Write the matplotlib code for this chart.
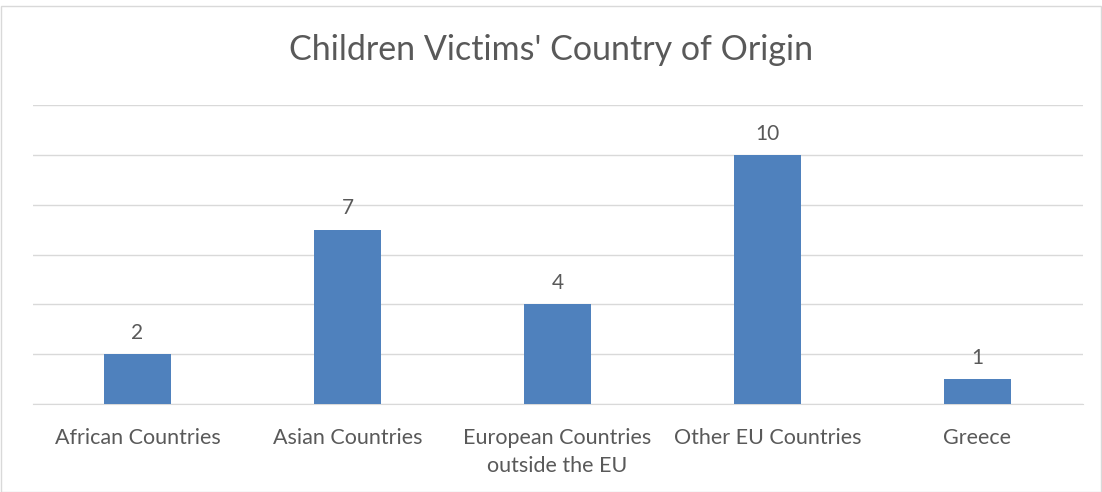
import matplotlib.pyplot as plt
from matplotlib.patches import Rectangle

# --- Data ---
categories = ["African Countries", "Asian Countries", "European Countries\noutside the EU",
              "Other EU Countries", "Greece"]
values = [2, 7, 4, 10, 1]

plt.rcParams['font.family'] = ['Lato', 'DejaVu Sans']
text_color = "#595959"

fig = plt.figure(figsize=(11.02, 4.92), dpi=100)
ax = fig.add_axes([32.5 / 1102, 88 / 492, 1050 / 1102, 299 / 492])

x = range(len(categories))
bars = ax.bar(x, values, width=0.315, color="#4F81BD", zorder=3)
for b, v in zip(bars, values):
    ax.annotate(str(v), (b.get_x() + b.get_width() / 2, v), xytext=(0, 8),
                textcoords="offset points", ha="center", va="bottom",
                fontsize=15, color=text_color)

ax.set_xlim(-0.5, len(categories) - 0.5)
ax.set_ylim(0, 12)
ax.set_yticks(range(0, 13, 2))
ax.set_yticklabels([])
ax.tick_params(axis="y", length=0)
ax.grid(axis="y", color="#D9D9D9", linewidth=1, zorder=0)
ax.set_xticks(list(x))
ax.set_xticklabels(categories, fontsize=15.5, color=text_color, linespacing=1.55)
ax.tick_params(axis="x", length=0, pad=17)
for s in ["top", "right", "left"]:
    ax.spines[s].set_visible(False)
ax.spines["bottom"].set_color("#D9D9D9")

fig.text(0.5, 1 - 50 / 492, "Children Victims' Country of Origin", ha="center", va="center",
         fontsize=24.5, color=text_color)

fig.patches.append(Rectangle((0.5 / 1102, 0.5 / 492), 1100 / 1102, 486 / 492,
                             transform=fig.transFigure, fill=False,
                             edgecolor="#D9D9D9", linewidth=1))

fig.savefig("out.png", dpi=100)
